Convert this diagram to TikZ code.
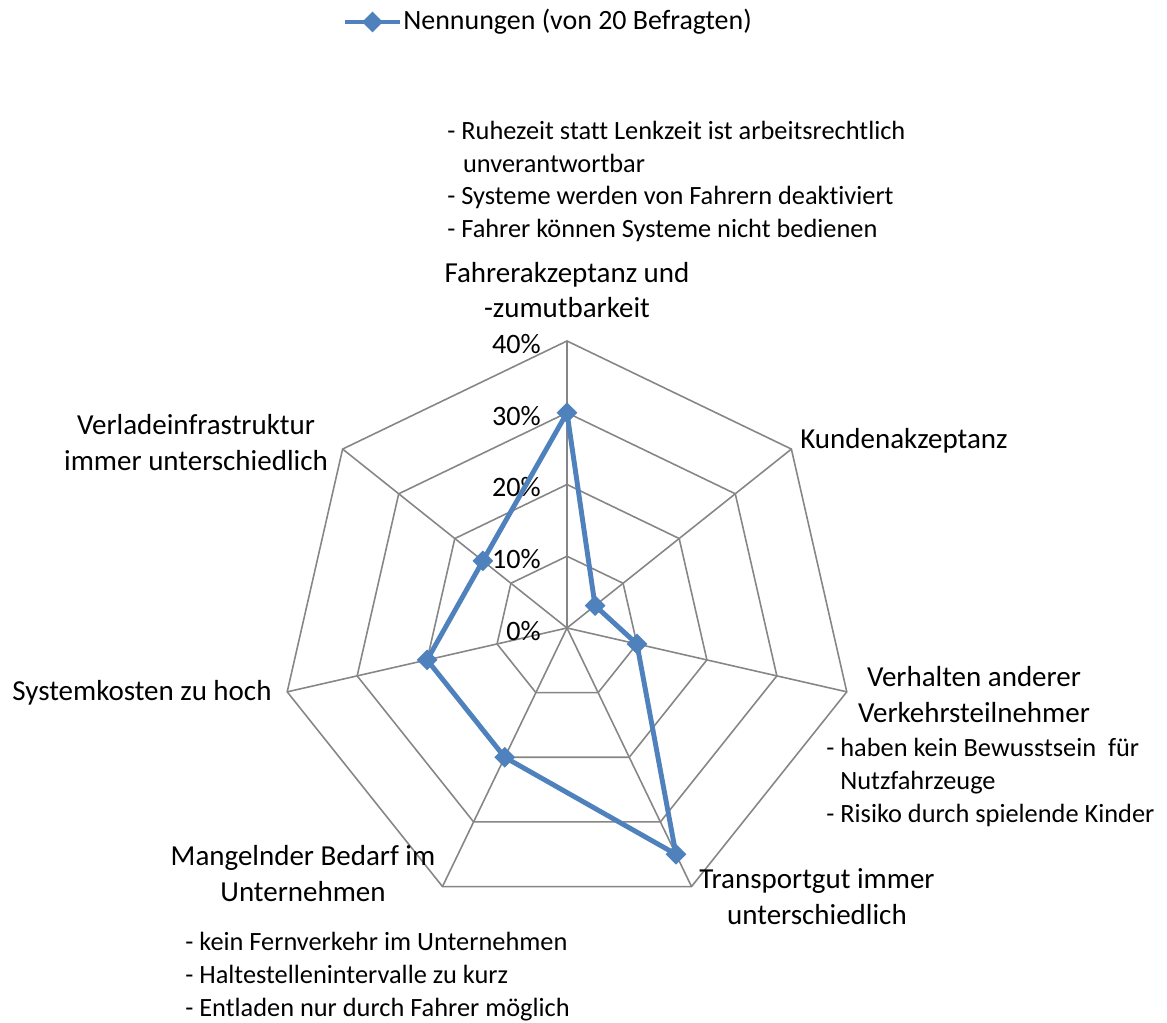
\documentclass[tikz,border=0pt]{standalone}
\usepackage{fontspec}
\setmainfont{Carlito}[Ligatures=NoCommon]
\usetikzlibrary{shapes.geometric}

\definecolor{seriesblue}{RGB}{79,129,189}
\definecolor{gridgray}{RGB}{134,134,134}

\tikzset{
  gridline/.style={draw=gridgray, line width=0.9pt},
  series/.style={draw=seriesblue, line width=2.8pt, line join=round},
  marker/.style={diamond, fill=seriesblue, inner sep=0pt, minimum size=0.42cm},
  axislabel/.style={font=\fontsize{16.5}{20.4}\selectfont, align=center, inner sep=0pt},
  notes/.style={font=\fontsize{15}{18.7}\selectfont, align=left, inner sep=0pt, anchor=west},
  pct/.style={font=\fontsize{16}{19}\selectfont, anchor=east, inner sep=0pt}
}

\begin{document}
\begin{tikzpicture}[x=0.02cm, y=0.02cm]
    % Fix the page size
    \useasboundingbox (-567,-395) rectangle (600,628);
    % Draw the grid
    \foreach \r in {71.75,143.5,215.25,287} {
        \draw[gridline] (90:\r) \foreach \a in {1,...,6} { -- ({90-\a*360/7}:\r) } -- cycle;
    }
    % Draw the spokes
    \coordinate (o) at (0,0);
    \foreach \a in {0,...,6} {
        \coordinate (ax\a) at ({90-\a*360/7}:287);
        \draw[gridline] (o) -- (ax\a);
    }
    % Scale labels
    \node[pct] (s0) at (-26,-3) {0\%};
    \node[pct] (s10) at (-26,68.75) {10\%};
    \node[pct] (s20) at (-26,140.5) {20\%};
    \node[pct] (s30) at (-26,212.25) {30\%};
    \node[pct] (s40) at (-26,284) {40\%};
    % Data points (value in percent)
    \foreach \a/\v in {0/30,1/5,2/10,3/35,4/20,5/20,6/15} {
        \coordinate (d\a) at ({90-\a*360/7}:{\v*7.175});
    }
    % Draw the series
    \draw[series] (d0) -- (d1) -- (d2) -- (d3) -- (d4) -- (d5) -- (d6) -- cycle;
    \foreach \a in {0,...,6} {
        \node[marker] (p\a) at (d\a) {};
    }
    % Axis labels
    \node[axislabel] (fahrer) at (0,338) {Fahrerakzeptanz und\\-zumutbarkeit};
    \node[axislabel, anchor=west] (kunden) at (233,187) {Kundenakzeptanz};
    \node[axislabel] (verhalten) at (407,-66.5) {Verhalten anderer\\Verkehrsteilnehmer};
    \node[axislabel] (transport) at (250,-268.5) {Transportgut immer\\unterschiedlich};
    \node[axislabel] (bedarf) at (-264,-245.5) {Mangelnder Bedarf im\\Unternehmen};
    \node[axislabel] (kosten) at (-425,-65) {Systemkosten zu hoch};
    \node[axislabel] (verlade) at (-371,185.5) {Verladeinfrastruktur\\immer unterschiedlich};
    % Comments of the interviewees
    \node[notes] (nfahrer) at (-120,446.5) {- Ruhezeit statt Lenkzeit ist arbeitsrechtlich\\\hspace*{0.6em}unverantwortbar\\- Systeme werden von Fahrern deaktiviert\\- Fahrer können Systeme nicht bedienen};
    \node[notes] (nverhalten) at (259,-154.5) {- haben kein Bewusstsein\ \ für\\\hspace*{0.53em}Nutzfahrzeuge\\- Risiko durch spielende Kinder};
    \node[notes] (nbedarf) at (-382,-348.5) {- kein Fernverkehr im Unternehmen\\- Haltestellenintervalle zu kurz\\- Entladen nur durch Fahrer möglich};
    % Legend
    \coordinate (lega) at (-222,606);
    \coordinate (legb) at (-167,606);
    \draw[series] (lega) -- (legb);
    \node[marker] (legm) at (-194.5,606) {};
    \node[font=\fontsize{15.9}{19}\selectfont, anchor=west, inner sep=0pt] (legtext) at (-164,606) {Nennungen (von 20 Befragten)};
\end{tikzpicture}
\end{document}
